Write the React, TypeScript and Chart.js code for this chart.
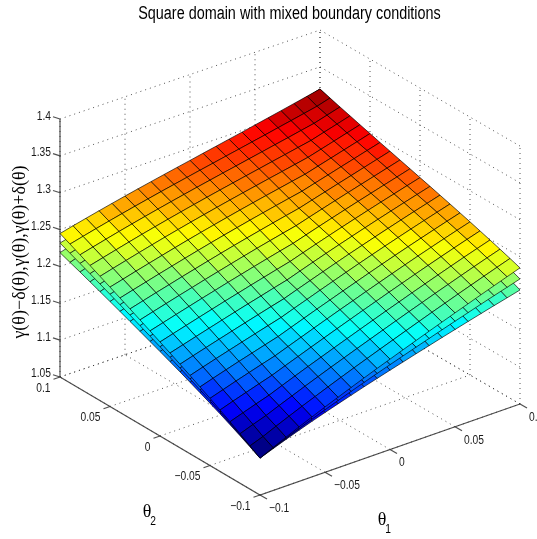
import React, { useEffect, useRef } from "react";
import { Chart, registerables } from "chart.js";

Chart.register(...registerables);

const titleText = "Square domain with mixed boundary conditions";
const zLabelText = "γ(θ)−δ(θ),γ(θ),γ(θ)+δ(θ)";
const thetaTicks = [-0.1, -0.05, 0, 0.05, 0.1];
const thetaTickLabels = ["−0.1", "−0.05", "0", "0.05", "0.1"];
const zTicks = [1.05, 1.1, 1.15, 1.2, 1.25, 1.3, 1.35, 1.4];
const zTickLabels = ["1.05", "1.1", "1.15", "1.2", "1.25", "1.3", "1.35", "1.4"];
const theta1 = [-0.1, -0.09, -0.08, -0.07, -0.06, -0.05, -0.04, -0.03, -0.02, -0.01, 0, 0.01, 0.02, 0.03, 0.04, 0.05, 0.06, 0.07, 0.08, 0.09, 0.1];
const theta2 = [-0.1, -0.09, -0.08, -0.07, -0.06, -0.05, -0.04, -0.03, -0.02, -0.01, 0, 0.01, 0.02, 0.03, 0.04, 0.05, 0.06, 0.07, 0.08, 0.09, 0.1];

// rows: theta2, columns: theta1
const gamma = [
  [1.1000,1.1074,1.1146,1.1216,1.1283,1.1348,1.1411,1.1473,1.1534,1.1593,1.1651,1.1708,1.1765,1.1821,1.1877,1.1932,1.1986,1.2040,1.2093,1.2145,1.2197],
  [1.1080,1.1152,1.1222,1.1289,1.1354,1.1417,1.1479,1.1540,1.1599,1.1657,1.1714,1.1771,1.1827,1.1883,1.1938,1.1992,1.2046,1.2099,1.2151,1.2203,1.2253],
  [1.1158,1.1228,1.1295,1.1360,1.1423,1.1485,1.1546,1.1605,1.1663,1.1720,1.1777,1.1833,1.1889,1.1944,1.1998,1.2052,1.2105,1.2157,1.2209,1.2259,1.2308],
  [1.1234,1.1301,1.1366,1.1429,1.1491,1.1552,1.1611,1.1669,1.1726,1.1783,1.1839,1.1895,1.1950,1.2004,1.2058,1.2111,1.2163,1.2215,1.2265,1.2314,1.2361],
  [1.1307,1.1372,1.1435,1.1497,1.1558,1.1617,1.1675,1.1732,1.1789,1.1845,1.1901,1.1956,1.2010,1.2064,1.2117,1.2169,1.2221,1.2271,1.2320,1.2367,1.2414],
  [1.1378,1.1441,1.1503,1.1564,1.1623,1.1681,1.1738,1.1795,1.1851,1.1907,1.1962,1.2016,1.2070,1.2123,1.2175,1.2227,1.2277,1.2326,1.2373,1.2420,1.2465],
  [1.1447,1.1509,1.1570,1.1629,1.1687,1.1744,1.1801,1.1857,1.1913,1.1968,1.2022,1.2076,1.2129,1.2181,1.2233,1.2283,1.2332,1.2379,1.2426,1.2471,1.2516],
  [1.1515,1.1576,1.1635,1.1693,1.1750,1.1807,1.1863,1.1919,1.1974,1.2028,1.2082,1.2135,1.2187,1.2239,1.2289,1.2338,1.2385,1.2432,1.2477,1.2522,1.2565],
  [1.1582,1.1641,1.1699,1.1756,1.1813,1.1869,1.1925,1.1980,1.2034,1.2088,1.2141,1.2193,1.2245,1.2295,1.2344,1.2391,1.2438,1.2483,1.2528,1.2571,1.2614],
  [1.1647,1.1705,1.1762,1.1819,1.1875,1.1931,1.1986,1.2040,1.2094,1.2147,1.2199,1.2251,1.2301,1.2350,1.2397,1.2444,1.2489,1.2534,1.2577,1.2620,1.2662],
  [1.1711,1.1768,1.1825,1.1881,1.1937,1.1992,1.2046,1.2100,1.2153,1.2205,1.2257,1.2307,1.2356,1.2403,1.2450,1.2495,1.2540,1.2583,1.2626,1.2668,1.2710],
  [1.1774,1.1831,1.1887,1.1943,1.1998,1.2052,1.2106,1.2159,1.2211,1.2263,1.2313,1.2362,1.2409,1.2456,1.2501,1.2546,1.2589,1.2632,1.2674,1.2716,1.2758],
  [1.1837,1.1893,1.1949,1.2004,1.2058,1.2112,1.2165,1.2217,1.2269,1.2319,1.2368,1.2415,1.2462,1.2507,1.2552,1.2595,1.2638,1.2680,1.2722,1.2764,1.2806],
  [1.1899,1.1955,1.2010,1.2064,1.2118,1.2171,1.2223,1.2275,1.2325,1.2374,1.2421,1.2468,1.2513,1.2558,1.2601,1.2644,1.2686,1.2728,1.2770,1.2812,1.2854],
  [1.1961,1.2016,1.2070,1.2124,1.2177,1.2229,1.2281,1.2331,1.2380,1.2427,1.2474,1.2519,1.2564,1.2607,1.2650,1.2692,1.2734,1.2776,1.2818,1.2860,1.2902],
  [1.2022,1.2076,1.2130,1.2183,1.2235,1.2287,1.2337,1.2386,1.2433,1.2480,1.2525,1.2570,1.2613,1.2656,1.2698,1.2740,1.2782,1.2824,1.2866,1.2908,1.2951],
  [1.2082,1.2136,1.2189,1.2241,1.2293,1.2343,1.2392,1.2439,1.2486,1.2531,1.2576,1.2619,1.2662,1.2704,1.2746,1.2788,1.2830,1.2872,1.2914,1.2957,1.3000],
  [1.2142,1.2195,1.2247,1.2299,1.2349,1.2398,1.2445,1.2492,1.2537,1.2582,1.2625,1.2668,1.2710,1.2752,1.2794,1.2836,1.2878,1.2920,1.2963,1.3006,1.3049],
  [1.2201,1.2253,1.2305,1.2355,1.2404,1.2451,1.2498,1.2543,1.2588,1.2631,1.2674,1.2716,1.2758,1.2800,1.2842,1.2884,1.2926,1.2969,1.3012,1.3055,1.3099],
  [1.2259,1.2311,1.2361,1.2410,1.2457,1.2504,1.2549,1.2594,1.2637,1.2680,1.2722,1.2764,1.2806,1.2848,1.2890,1.2932,1.2975,1.3018,1.3061,1.3105,1.3149],
  [1.2317,1.2367,1.2416,1.2463,1.2510,1.2555,1.2600,1.2643,1.2686,1.2728,1.2770,1.2812,1.2854,1.2896,1.2938,1.2981,1.3024,1.3067,1.3111,1.3155,1.3200],
];

const delta = [
  [0,.0008,.0015,.0023,.003,.0038,.0045,.0053,.006,.0068,.0075,.0083,.009,.0098,.0105,.0113,.012,.0128,.0135,.0143,.015],
  [.0007,0,.0008,.0015,.0023,.003,.0038,.0045,.0053,.006,.0068,.0075,.0083,.009,.0098,.0105,.0113,.012,.0128,.0135,.0143],
  [.0013,.0007,0,.0008,.0015,.0023,.003,.0038,.0045,.0053,.006,.0068,.0075,.0083,.009,.0098,.0105,.0113,.012,.0128,.0135],
  [.002,.0013,.0007,0,.0008,.0015,.0023,.003,.0038,.0045,.0053,.006,.0068,.0075,.0083,.009,.0098,.0105,.0113,.012,.0128],
  [.0026,.002,.0013,.0007,0,.0008,.0015,.0023,.003,.0038,.0045,.0053,.006,.0068,.0075,.0083,.009,.0098,.0105,.0113,.012],
  [.0033,.0026,.002,.0013,.0007,0,.0008,.0015,.0023,.003,.0038,.0045,.0053,.006,.0068,.0075,.0083,.009,.0098,.0105,.0113],
  [.0039,.0033,.0026,.002,.0013,.0007,0,.0008,.0015,.0023,.003,.0038,.0045,.0053,.006,.0068,.0075,.0083,.009,.0098,.0105],
  [.0046,.0039,.0033,.0026,.002,.0013,.0007,0,.0008,.0015,.0023,.003,.0038,.0045,.0053,.006,.0068,.0075,.0083,.009,.0098],
  [.0052,.0046,.0039,.0033,.0026,.002,.0013,.0007,0,.0008,.0015,.0023,.003,.0038,.0045,.0053,.006,.0068,.0075,.0083,.009],
  [.0059,.0052,.0046,.0039,.0033,.0026,.002,.0013,.0007,0,.0008,.0015,.0023,.003,.0038,.0045,.0053,.006,.0068,.0075,.0083],
  [.0065,.0059,.0052,.0046,.0039,.0033,.0026,.002,.0013,.0007,0,.0008,.0015,.0023,.003,.0038,.0045,.0053,.006,.0068,.0075],
  [.0072,.0065,.0059,.0052,.0046,.0039,.0033,.0026,.002,.0013,.0007,0,.0008,.0015,.0023,.003,.0038,.0045,.0053,.006,.0068],
  [.0078,.0072,.0065,.0059,.0052,.0046,.0039,.0033,.0026,.002,.0013,.0007,0,.0008,.0015,.0023,.003,.0038,.0045,.0053,.006],
  [.0085,.0078,.0072,.0065,.0059,.0052,.0046,.0039,.0033,.0026,.002,.0013,.0007,0,.0008,.0015,.0023,.003,.0038,.0045,.0053],
  [.0091,.0085,.0078,.0072,.0065,.0059,.0052,.0046,.0039,.0033,.0026,.002,.0013,.0007,0,.0008,.0015,.0023,.003,.0038,.0045],
  [.0098,.0091,.0085,.0078,.0072,.0065,.0059,.0052,.0046,.0039,.0033,.0026,.002,.0013,.0007,0,.0008,.0015,.0023,.003,.0038],
  [.0104,.0098,.0091,.0085,.0078,.0072,.0065,.0059,.0052,.0046,.0039,.0033,.0026,.002,.0013,.0007,0,.0008,.0015,.0023,.003],
  [.0111,.0104,.0098,.0091,.0085,.0078,.0072,.0065,.0059,.0052,.0046,.0039,.0033,.0026,.002,.0013,.0007,0,.0008,.0015,.0023],
  [.0117,.0111,.0104,.0098,.0091,.0085,.0078,.0072,.0065,.0059,.0052,.0046,.0039,.0033,.0026,.002,.0013,.0007,0,.0008,.0015],
  [.0124,.0117,.0111,.0104,.0098,.0091,.0085,.0078,.0072,.0065,.0059,.0052,.0046,.0039,.0033,.0026,.002,.0013,.0007,0,.0008],
  [.013,.0124,.0117,.0111,.0104,.0098,.0091,.0085,.0078,.0072,.0065,.0059,.0052,.0046,.0039,.0033,.0026,.002,.0013,.0007,0],
];

const surfaceSigns = [-1, 0, 1]; // gamma-delta, gamma, gamma+delta, bottom to top

// view of the 3-D box on the flat scales
const view = {
  near: [260, 495], right: [520, 404], left: [60, 377], back: [320, 288], zScale: 737,
  zBase: 1.05, tMin: -0.1, tSpan: 0.2,
};
const colorLimits = [1.1, 1.32];
const sans = '"Liberation Sans", sans-serif';
const serif = '"Liberation Serif", serif';

function project(t1: number, t2: number, z: number) {
  const u = (t1 - view.tMin) / view.tSpan;
  const v = (t2 - view.tMin) / view.tSpan;
  const w = (a: number) =>
    (1 - u) * (1 - v) * view.near[a] + u * (1 - v) * view.right[a] + (1 - u) * v * view.left[a] + u * v * view.back[a];
  return { x: w(0), y: w(1) - (z - view.zBase) * view.zScale };
}

function jet(z: number) {
  const m = 64;
  const idx = Math.min(m - 1, Math.max(0, Math.floor(((z - colorLimits[0]) / (colorLimits[1] - colorLimits[0])) * m)));
  const x = (idx + 0.5) / m;
  const c = (f: number) => Math.round(255 * Math.min(1, Math.max(0, f)));
  return `rgb(${c(Math.min(4 * x - 1.5, -4 * x + 4.5))},${c(Math.min(4 * x - 0.5, -4 * x + 3.5))},${c(Math.min(4 * x + 0.5, -4 * x + 2.5))})`;
}

function lineSet(points: { x: number; y: number }[], kind: "grid" | "axis") {
  return {
    data: points,
    showLine: true,
    pointRadius: 0,
    fill: false,
    borderColor: kind === "grid" ? "rgba(40,40,40,0.8)" : "rgba(50,50,50,0.85)",
    borderWidth: kind === "grid" ? 1 : 1.2,
    borderDash: kind === "grid" ? [1, 4] : [],
  };
}

function buildDatasets() {
  const paint: any[] = [];
  const lo = thetaTicks[0];
  const hi = thetaTicks[thetaTicks.length - 1];
  const zLo = zTicks[0];
  const zHi = zTicks[zTicks.length - 1];
  for (const t of thetaTicks) {
    paint.push(lineSet([project(t, lo, zLo), project(t, hi, zLo)], "grid"));
    paint.push(lineSet([project(lo, t, zLo), project(hi, t, zLo)], "grid"));
    paint.push(lineSet([project(t, hi, zLo), project(t, hi, zHi)], "grid"));
    paint.push(lineSet([project(hi, t, zLo), project(hi, t, zHi)], "grid"));
  }
  for (const z of zTicks) {
    paint.push(lineSet([project(lo, hi, z), project(hi, hi, z), project(hi, lo, z)], "grid"));
  }
  paint.push(lineSet([project(lo, hi, zLo), project(lo, hi, zHi)], "axis"));
  paint.push(lineSet([project(lo, hi, zLo), project(lo, lo, zLo), project(hi, lo, zLo)], "axis"));
  const tickOff = (p: { x: number; y: number }, dx: number, dy: number) => [p, { x: p.x + dx, y: p.y + dy }];
  for (const t of thetaTicks) {
    paint.push(lineSet(tickOff(project(lo, t, zLo), -6.5, 2.3), "axis"));
    paint.push(lineSet(tickOff(project(t, lo, zLo), 7, 4), "axis"));
  }
  for (const z of zTicks) paint.push(lineSet(tickOff(project(lo, hi, z), -7, -2.3), "axis"));

  for (const sign of surfaceSigns) {
    const h = (i: number, j: number) => gamma[j][i] + sign * delta[j][i];
    for (let j = theta2.length - 2; j >= 0; j--) {
      for (let i = theta1.length - 2; i >= 0; i--) {
        const a = project(theta1[i], theta2[j], h(i, j));
        const b = project(theta1[i + 1], theta2[j], h(i + 1, j));
        const c = project(theta1[i + 1], theta2[j + 1], h(i + 1, j + 1));
        const d = project(theta1[i], theta2[j + 1], h(i, j + 1));
        paint.push({
          data: [a, b, c, d, a],
          showLine: true,
          pointRadius: 0,
          fill: "shape",
          backgroundColor: jet(h(i, j)),
          borderColor: "rgba(0,0,0,0.72)",
          borderWidth: 0.9,
        });
      }
    }
  }
  return paint.reverse(); // Chart.js paints the last dataset first
}

const labelsPlugin = {
  id: "boxLabels",
  afterDraw(chart: any) {
    const { ctx, scales } = chart;
    const text = (s: string, x: number, y: number, align: string, font: string, squeeze: number) => {
      ctx.save();
      ctx.translate(scales.x.getPixelForValue(x), scales.y.getPixelForValue(y));
      ctx.scale(squeeze, 1);
      ctx.textAlign = align;
      ctx.font = font;
      ctx.fillText(s, 0, 0);
      ctx.restore();
    };
    const tickFont = `12.5px ${sans}`;
    const lo = thetaTicks[0];
    const hi = thetaTicks[4];
    const zLo = zTicks[0];
    ctx.save();
    ctx.fillStyle = "#1a1a1a";
    ctx.textBaseline = "middle";
    zTicks.forEach((z, k) => {
      const p = project(lo, hi, z);
      text(zTickLabels[k], p.x - 9, p.y - 3, "right", tickFont, 0.82);
    });
    thetaTicks.forEach((t, k) => {
      const p2 = project(lo, t, zLo);
      text(thetaTickLabels[k], p2.x - 9.5, p2.y + 11.5, "right", tickFont, 0.82);
      const p1 = project(t, lo, zLo);
      text(thetaTickLabels[k], p1.x + 9, p1.y + 13.5, "left", tickFont, 0.82);
    });
    ctx.fillStyle = "#000";
    const a1 = project(0, lo, zLo);
    const a2 = project(lo, 0, zLo);
    text("θ", a1.x - 8, a1.y + 70.5, "center", `18px ${serif}`, 1);
    text("1", a1.x - 2, a1.y + 80.5, "center", `12.5px ${sans}`, 0.82);
    text("θ", a2.x - 13, a2.y + 76, "center", `18px ${serif}`, 1);
    text("2", a2.x - 7, a2.y + 86, "center", `12.5px ${sans}`, 0.82);
    ctx.textBaseline = "alphabetic";
    text(titleText, 289.5, 19, "center", `18px ${sans}`, 0.8);
    ctx.textBaseline = "middle";
    ctx.translate(scales.x.getPixelForValue(20), scales.y.getPixelForValue(252));
    ctx.rotate(-Math.PI / 2);
    ctx.textAlign = "center";
    ctx.font = `18px ${serif}`;
    ctx.fillText(zLabelText, 0, 0);
    ctx.restore();
  },
};

export default function App() {
  const ref = useRef<HTMLCanvasElement>(null);
  useEffect(() => {
    document.body.style.margin = "0";
    const chart = new Chart(ref.current as HTMLCanvasElement, {
      type: "scatter",
      data: { datasets: buildDatasets() },
      plugins: [labelsPlugin],
      options: {
        animation: false,
        responsive: false,
        events: [],
        layout: { padding: 0 },
        scales: {
          x: { type: "linear", min: 0, max: 537, display: false },
          y: { type: "linear", min: 0, max: 539, reverse: true, display: false },
        },
        plugins: {
          legend: { display: false },
          tooltip: { enabled: false },
          title: { display: false },
        },
      },
    } as any);
    return () => chart.destroy();
  }, []);
  return <canvas ref={ref} width={537} height={539} style={{ display: "block" }} />;
}
